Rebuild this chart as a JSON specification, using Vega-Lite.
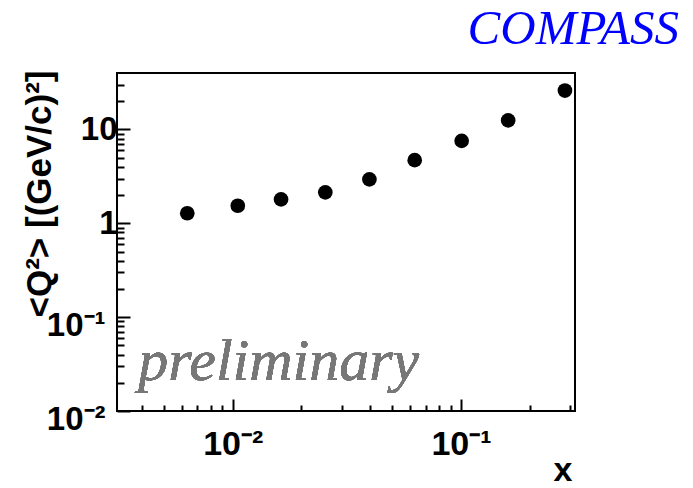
{
  "$schema": "https://vega.github.io/schema/vega-lite/v6.json",
  "width": 458,
  "height": 338,
  "autosize": "none",
  "padding": {"left": 117, "top": 73, "right": 118, "bottom": 77},
  "background": "white",
  "config": {
    "view": {"stroke": "black", "strokeWidth": 2},
    "font": "Liberation Sans"
  },
  "title": {
    "text": "COMPASS",
    "anchor": "end",
    "frame": "group",
    "font": "Liberation Serif",
    "fontStyle": "italic",
    "fontWeight": "normal",
    "fontSize": 49,
    "color": "#0000ff",
    "dx": 104,
    "offset": 15
  },
  "data": {
    "values": [
      {"x": 0.00632, "q2": 1.28},
      {"x": 0.01052, "q2": 1.54},
      {"x": 0.01628, "q2": 1.80},
      {"x": 0.02544, "q2": 2.14},
      {"x": 0.0397, "q2": 2.94},
      {"x": 0.0627, "q2": 4.71},
      {"x": 0.1007, "q2": 7.57},
      {"x": 0.161, "q2": 12.5},
      {"x": 0.2855, "q2": 26.0}
    ]
  },
  "layer": [
    {
      "mark": {"type": "circle", "size": 215, "color": "black", "opacity": 1},
      "encoding": {
        "x": {
          "field": "x",
          "type": "quantitative",
          "scale": {"type": "log", "domain": [0.00311, 0.316], "nice": false},
          "axis": {
            "title": "x",
            "titleFont": "Liberation Sans",
            "titleFontWeight": "bold",
            "titleFontSize": 34,
            "titleAnchor": "end",
            "titleAlign": "right",
            "titleBaseline": "alphabetic",
            "titleX": 455,
            "titleY": 69,
            "values": [0.004, 0.005, 0.006, 0.007, 0.008, 0.009, 0.01, 0.02, 0.03, 0.04, 0.05, 0.06, 0.07, 0.08, 0.09, 0.1, 0.2, 0.3],
            "domain": false,
            "grid": false,
            "tickColor": "black",
            "tickWidth": 2,
            "tickSize": {"condition": {"test": "datum.value == 0.01 || datum.value == 0.1", "value": -12}, "value": -6},
            "labelExpr": "datum.value == 0.01 ? '10⁻²' : datum.value == 0.1 ? '10⁻¹' : ''",
            "labelFont": "Liberation Sans",
            "labelFontWeight": "bold",
            "labelFontSize": 34,
            "labelColor": "black",
            "labelPadding": 28,
            "labelBaseline": "top",
            "labelOverlap": false,
            "labelFlush": false,
            "labelBound": false
          }
        },
        "y": {
          "field": "q2",
          "type": "quantitative",
          "scale": {"type": "log", "domain": [0.01, 40], "nice": false},
          "axis": {
            "title": "<Q²> [(GeV/c)²]",
            "titleFont": "Liberation Sans",
            "titleFontWeight": "bold",
            "titleFontSize": 35,
            "titleAngle": -90,
            "titleAlign": "right",
            "titleBaseline": "alphabetic",
            "titleX": -67,
            "titleY": -3,
            "values": [0.02, 0.03, 0.04, 0.05, 0.06, 0.07, 0.08, 0.09, 0.1, 0.2, 0.3, 0.4, 0.5, 0.6, 0.7, 0.8, 0.9, 1, 2, 3, 4, 5, 6, 7, 8, 9, 10, 20, 30, 0.01],
            "domain": false,
            "grid": false,
            "tickColor": "black",
            "tickWidth": 2,
            "tickSize": {"condition": {"test": "datum.value == 0.01 || datum.value == 0.1 || datum.value == 1 || datum.value == 10", "value": -13}, "value": -7},
            "labelExpr": "datum.value == 0.01 ? '10⁻²' : datum.value == 0.1 ? '10⁻¹' : datum.value == 1 ? '1' : datum.value == 10 ? '10' : ''",
            "labelFont": "Liberation Sans",
            "labelFontWeight": "bold",
            "labelFontSize": 33,
            "labelColor": "black",
            "labelPadding": {"condition": {"test": "datum.value < 0.5", "value": 25}, "value": 13},
            "labelBaseline": "middle",
            "labelOffset": {"condition": {"test": "datum.value < 0.5", "value": 8}, "value": 0},
            "labelOverlap": false,
            "labelFlush": false,
            "labelBound": false
          }
        }
      }
    },
    {
      "mark": {
        "type": "text",
        "text": "preliminary",
        "align": "left",
        "baseline": "alphabetic",
        "font": "Liberation Serif",
        "fontStyle": "italic",
        "fontSize": 60,
        "color": "#777777"
      },
      "encoding": {
        "x": {"datum": 0.00385, "type": "quantitative"},
        "y": {"datum": 0.0215, "type": "quantitative"}
      }
    }
  ]
}
